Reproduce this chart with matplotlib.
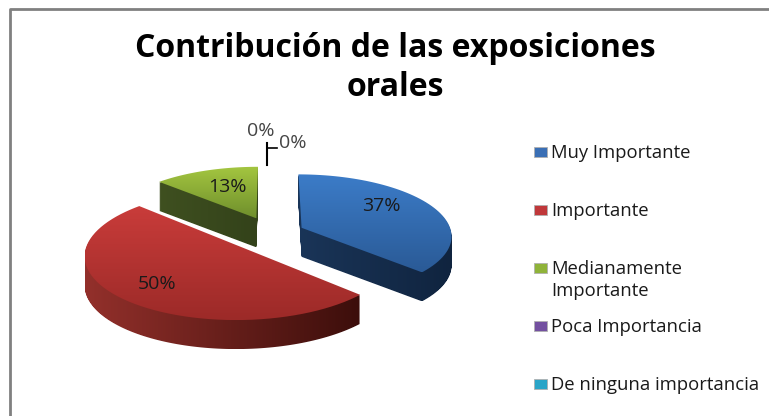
import numpy as np
import matplotlib
matplotlib.use('Agg')
import matplotlib.pyplot as plt
from matplotlib.colors import LinearSegmentedColormap
from matplotlib.patches import PathPatch, Rectangle
from matplotlib.path import Path
from matplotlib.transforms import Affine2D

title = 'Contribución de las exposiciones\norales'
categories = ['Muy Importante', 'Importante', 'Medianamente\nImportante',
              'Poca Importancia', 'De ninguna importancia']
values = [37, 50, 13, 0, 0]
legend_colors = ['#3a6fb5', '#c0383a', '#8fb339', '#7350a0', '#2aa5c8']

# top face gradient (far to near), side gradient (left to right)
top_colors = [('#3c7cc8', '#2a5a96'), ('#c93c3a', '#9c2a28'), ('#a4c640', '#6f8f2c')]
side_colors = [('#1a3558', '#10243f'), ('#93302b', '#3c0e0b'), ('#3f5020', '#33421a')]

explode = [0.217, 0.30, 0.27, 0, 0]
# draw order: back slices first
draw_order = [2, 0, 1]

W, H = 769, 416
fig = plt.figure(figsize=(W / 100, H / 100), dpi=100, facecolor='white')
ax = fig.add_axes([0, 0, 1, 1])

# pie plane to picture pixels, with a little perspective
cx, cy, A, B, k = 272, 233, 150, 61, 0.12
depth = 29


def to_pixels(xy):
    s = 1 / (1 + k * xy[:, 1])
    return np.column_stack([cx + A * xy[:, 0] * s, cy - B * xy[:, 1] * s])


wedges, _ = ax.pie(values, explode=explode, startangle=90, counterclock=False, normalize=True)
for w in wedges:
    w.set_visible(False)

z = 1
for i in draw_order:
    w = wedges[i]
    # flatten the curve at a big scale so the outline stays smooth
    big = w.get_patch_transform().transform_path(w.get_path()).transformed(Affine2D().scale(1000))
    top = to_pixels(big.to_polygons(closed_only=True)[0] / 1000)
    layers = [Path(top + [0, d]) for d in range(depth, 0, -1)]
    x0, x1 = top[:, 0].min(), top[:, 0].max()
    y0, y1 = top[:, 1].min(), top[:, 1].max()

    side_clip = PathPatch(Path.make_compound_path(*layers), transform=ax.transData)
    side_cmap = LinearSegmentedColormap.from_list('s', side_colors[i])
    im = ax.imshow(np.linspace(0, 1, 256).reshape(1, -1), cmap=side_cmap, aspect='auto',
                   extent=(x0, x1, y1 + depth, y0), zorder=z, interpolation='bilinear')
    im.set_clip_path(side_clip)
    z += 1

    top_clip = PathPatch(Path(top), transform=ax.transData)
    top_cmap = LinearSegmentedColormap.from_list('t', top_colors[i])
    im = ax.imshow(np.linspace(0, 1, 256).reshape(-1, 1), cmap=top_cmap, aspect='auto',
                   extent=(x0, x1, y1, y0), zorder=z, interpolation='bilinear')
    im.set_clip_path(top_clip)
    z += 1

ax.set_aspect('auto')
ax.set_xlim(0, W)
ax.set_ylim(H, 0)
ax.axis('off')

font = 'Open Sans'
ax.text(395, 68, title, ha='center', va='center', fontsize=23, fontweight='bold',
        family=font, color='black', linespacing=1.27, zorder=20)

label_font = {'ha': 'center', 'va': 'center', 'fontsize': 14, 'family': font, 'zorder': 20}
ax.text(381, 206, f'{values[0]}%', color='#1a1a1a', **label_font)
ax.text(157, 284, f'{values[1]}%', color='#1a1a1a', **label_font)
ax.text(227, 187, f'{values[2]}%', color='#1a1a1a', **label_font)
ax.text(261, 131, f'{values[3]}%', color='#444444', **label_font)
ax.text(293, 143, f'{values[4]}%', color='#444444', **label_font)

ax.plot([267, 267], [143, 165], color='black', lw=1.5)
ax.plot([267, 277], [148, 148], color='black', lw=1.2)

# legend rows keep an even pitch even with the two line entry
for i, (name, c) in enumerate(zip(categories, legend_colors)):
    row = 152 + i * 58
    ax.add_patch(Rectangle((534, row - 5), 13, 10, facecolor=c, edgecolor='#b0b0b0', lw=0.6, zorder=20))
    ax.text(551, row - 8, name, ha='left', va='top', fontsize=13.3, family=font,
            color='#1a1a1a', linespacing=1.25, zorder=20)

# the frame only shows on the top and left
ax.plot([10, 10, W], [H, 9, 9], color='#808080', lw=2, clip_on=False)

fig.savefig('out.png', dpi=100)
